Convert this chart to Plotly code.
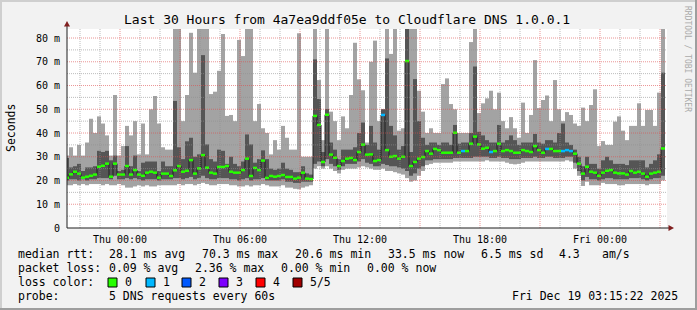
import plotly.graph_objects as go
from datetime import datetime, timedelta

# ---------------- data (ms), one value per 12-minute bin ----------------
ping_median = [
    21.2, 22.6, 23.7, 22.9, 21.2, 21.6, 22.0, 22.5, 25.8, 26.2, 27.1, 21.6, 27.1, 22.5, 22.5, 26.1, 22.5, 24.4, 22.5, 22.0, 23.3, 23.7, 23.3, 21.2, 22.9, 22.9,
    21.9, 24.3, 26.1, 23.7, 24.1, 28.6, 22.9, 25.1, 30.7, 25.4, 23.3, 22.9, 25.7, 25.7, 26.1, 23.7, 23.3, 23.3, 24.4, 29.2, 21.9, 25.3, 24.4, 28.4, 21.1,
    21.9, 21.6, 21.9, 22.3, 21.5, 21.5, 20.8, 21.2, 23.3, 20.8, 20.6, 47.2, 43.4, 27.8, 47.7, 30.9, 29.6, 26.1, 28.2, 29.2, 29.5, 28.6, 32.0, 35.1, 30.9,
    31.0, 28.2, 28.6, 47.6, 32.8, 30.0, 30.3, 29.2, 30.0, 70.3, 26.1, 27.8, 29.2, 29.9, 32.4, 31.3, 33.3, 32.8, 31.7, 31.7, 31.7, 40.1, 31.7, 32.4, 32.4,
    35.5, 38.5, 35.2, 33.4, 33.8, 32.0, 32.4, 35.5, 32.4, 32.8, 32.4, 31.7, 31.7, 32.8, 32.4, 32.0, 34.5, 32.8, 31.7, 33.3, 33.3, 32.4, 32.4, 32.4, 32.8,
    32.4, 31.3, 27.1, 22.9, 25.8, 23.7, 23.3, 22.0, 23.3, 24.1, 24.4, 23.3, 23.0, 23.0, 22.5, 24.0, 23.3, 23.7, 22.9, 21.6, 22.9, 23.3, 23.7, 33.5,
]
ping_max = [
    30.5, 34, 30.5, 35, 30.5, 36, 46, 40, 47, 44, 39, 30.5, 56, 30.5, 34.5, 43, 39, 45, 31, 44, 31, 50, 55.6, 44, 34, 33,
    33, 90, 90, 45, 56, 82.2, 65.4, 90, 90, 90, 56.4, 57.4, 66.2, 81.7, 47.2, 47.6, 45, 79.2, 72.4, 90, 90, 45, 52.2, 42, 40,
    31, 37, 33, 43, 38, 33, 33, 82, 30, 30, 30, 90, 62.3, 37, 90, 49, 45, 37, 47, 42, 56, 78, 62.6, 58, 36,
    70, 78.9, 45, 50, 90, 73.3, 90, 41, 42, 90, 90, 90, 57.8, 49, 40, 42, 40, 40, 60.6, 63, 52.2, 50, 40, 40, 40,
    78.3, 90, 48.4, 52.5, 54.6, 57.8, 50, 57, 45, 42, 46.7, 42, 38, 52.8, 40, 47.6, 70.7, 50.5, 53.9, 55.8, 45, 62.3, 50, 45, 48.8,
    47.6, 44, 43, 50.7, 45, 51.8, 58.4, 34.5, 36.6, 35, 35, 44.8, 47, 41, 37, 43, 43, 52.5, 43, 49.7, 49.7, 43, 57, 90,
]
ping_p4 = [
    29.5, 25.5, 26, 27, 24, 25.5, 25.5, 26, 32.5, 32, 32.5, 28.5, 30.5, 24, 24.5, 34.5, 26, 30.5, 24, 27.5, 28, 28, 28, 24, 28, 26,
    26, 53.5, 34, 29, 36.5, 38, 30, 31, 72.8, 35.2, 29, 28, 33, 32.5, 27, 30, 27, 26, 28, 39.4, 35.2, 27.5, 29, 32.7, 29,
    25, 24.5, 25, 27.5, 25, 24.5, 23.5, 23.5, 26, 23, 22.5, 71, 54.3, 32, 50.1, 36, 33, 29, 33, 33, 33, 34, 40, 44.4, 35,
    43, 36, 33, 50, 71.4, 43, 39, 33, 34.5, 90, 32, 62.7, 45, 38, 35, 36, 36, 35, 36, 36, 35, 43.4, 35.5, 36, 36,
    40, 68, 40.5, 39, 37, 36, 36, 43.4, 36, 37, 39, 37, 35, 36, 36, 36, 39.6, 36, 35.5, 37, 37, 36, 40, 44, 36,
    35, 33, 30, 26, 30, 27, 27, 25, 28.5, 30, 28.5, 27, 27, 27, 26.5, 28.5, 28.5, 28.5, 28.5, 25.5, 27, 28.5, 31, 65.4,
]
ping_p2 = [
    20, 20.5, 20.5, 20, 20.5, 20, 20.5, 20.5, 21, 21, 21, 20.5, 22, 20.5, 20.5, 21, 20.5, 21, 20.5, 20, 20.5, 20.5, 20.5, 20, 20.5, 20.5,
    20.5, 21, 21, 20.5, 21, 21.5, 20.5, 21, 22, 21, 20.5, 20.5, 21, 21, 21, 20.5, 20.5, 20, 20.5, 21, 20, 20.5, 20.5, 21, 20,
    20, 20, 20, 20.5, 19.5, 19.5, 19, 19, 19.5, 19.5, 19.5, 27, 28, 26, 29, 27, 26, 24.5, 26, 27, 27, 27, 28, 29, 27.5,
    27, 26, 26, 27, 26.5, 26, 26, 25.5, 25, 24, 22, 23, 25, 26, 28.5, 28.5, 29, 29, 29, 29, 29, 29.5, 29.5, 29.5, 29.5,
    29.5, 30, 30, 30, 30, 29.5, 29.5, 30, 29.5, 29.5, 29, 29, 29, 29.5, 29.5, 29.5, 30, 29.5, 29.5, 30, 30, 29.5, 29.5, 29.5, 30,
    30, 27.5, 24, 20, 21.5, 20.5, 20.5, 20, 20.5, 21, 21, 20.5, 20.5, 20.5, 20.5, 21, 21, 21, 20.5, 20, 20.5, 21, 21, 22,
]
ping_min = [
    18, 18, 18.5, 18, 18.5, 18, 18.5, 18.5, 18.5, 18, 18.5, 18, 18, 18.5, 18, 17, 17, 17.5, 18, 17.5, 18, 17.5, 17.5, 18, 18, 18,
    18, 18, 18.5, 18, 18.5, 18.5, 18, 18.5, 19, 18.5, 18, 18, 18.5, 18.5, 18.5, 18, 18, 17.5, 17.5, 18, 17.5, 18, 18, 18.5, 18,
    17.5, 17.5, 17.5, 18, 17, 17, 16.5, 16.3, 17, 17.5, 18, 25, 26, 25, 26, 25, 24, 23, 24.5, 25, 25, 25, 25.5, 26, 25.5,
    25, 24.5, 24.5, 25, 24, 24, 23.5, 23, 22.5, 21, 19.5, 20, 22, 24, 26.5, 27, 27.5, 27.5, 27.5, 27.5, 27.5, 28, 28, 28, 28,
    28, 28, 28, 28, 28.5, 28, 28, 28, 28, 27.5, 27, 26.8, 27, 27.5, 28, 28, 28, 28, 28, 28, 28, 28, 28, 28, 28.5,
    28, 25, 22, 17.7, 19.5, 18, 18, 18, 19, 18.5, 18.5, 18.5, 18, 18, 18.5, 18.5, 18.5, 18.5, 18.5, 18, 18.5, 18.5, 18.5, 20,
]
# packet loss (pings lost out of 5) per bin
loss = [0] * 150
for _k in (79, 99, 106, 120, 124, 125, 126):
    loss[_k] = 1

loss_labels = ["0", "1", "2", "3", "4", "5/5"]
loss_colors = ["#26ff00", "#00b8ff", "#0059ff", "#7e00ff", "#ff0000", "#a10000"]
x_tick_times = ["2025-12-18 00:00", "2025-12-18 06:00", "2025-12-18 12:00", "2025-12-18 18:00", "2025-12-19 00:00"]
x_tick_labels = ["Thu 00:00", "Thu 06:00", "Thu 12:00", "Thu 18:00", "Fri 00:00"]
y_tick_values = [0, 10, 20, 30, 40, 50, 60, 70, 80]
y_tick_labels = ["0", "10 m", "20 m", "30 m", "40 m", "50 m", "60 m", "70 m", "80 m"]

# ---------------- geometry / style ----------------
FIRST_BIN = datetime(2025, 12, 17, 21, 15)
STEP = timedelta(minutes=12)
STEP_MS = STEP.total_seconds() * 1000
X0 = datetime(2025, 12, 17, 21, 21)
X1 = datetime(2025, 12, 19, 3, 21)
Y_TOP = 83.8
W, H = 697, 310
L, R, T, B = 67, 667, 29, 228
MONO = "DejaVu Sans Mono"
LIGHT = "#a3a3a3"
DARK = "#555555"


def xp(px):
    return (px - L) / (R - L)


def yp(py):
    return (B - py) / (B - T)


n = len(ping_median)
starts = [FIRST_BIN + i * STEP for i in range(n)]
centers = [s + STEP / 2 for s in starts]

fig = go.Figure()
fig.add_trace(go.Bar(x=centers, base=ping_min, y=[a - b for a, b in zip(ping_max, ping_min)],
                     width=STEP_MS, marker=dict(color=LIGHT, line=dict(width=0)), hoverinfo="skip"))
fig.add_trace(go.Bar(x=centers, base=ping_p2, y=[a - b for a, b in zip(ping_p4, ping_p2)],
                     width=STEP_MS, marker=dict(color=DARK, line=dict(width=0)), hoverinfo="skip"))
fig.add_trace(go.Scatter(x=starts + [starts[-1] + STEP], y=ping_median + [ping_median[-1]],
                         mode="lines", line=dict(color="#202020", width=1, shape="hv"), hoverinfo="skip"))
for lvl, col in enumerate(loss_colors):
    xs, ys = [], []
    for s, m, l in zip(starts, ping_median, loss):
        if l == lvl:
            xs += [s, s + STEP, None]
            ys += [m, m, None]
    if xs:
        fig.add_trace(go.Scatter(x=xs, y=ys, mode="lines", line=dict(color=col, width=2.5),
                                 hoverinfo="skip"))

shapes = []
# grid (drawn over the data, like rrdtool)
t = datetime(2025, 12, 17, 22, 0)
while t < X1:
    major = t.hour % 3 == 0
    shapes.append(dict(type="line", xref="x", yref="paper", x0=t, x1=t, y0=0, y1=1, layer="above",
                       line=dict(color="rgba(222,79,79,0.6)" if major else "rgba(143,143,143,0.6)",
                                 width=1, dash="1px,1px")))
    t += timedelta(hours=1)
for v in range(5, 85, 5):
    major = v % 10 == 0
    shapes.append(dict(type="line", xref="paper", yref="y", x0=0, x1=1, y0=v, y1=v, layer="above",
                       line=dict(color="rgba(222,79,79,0.6)" if major else "rgba(143,143,143,0.6)",
                                 width=1, dash="1px,1px")))
# axes with arrows
shapes.append(dict(type="line", xref="paper", yref="paper", x0=0, x1=0, y0=0, y1=yp(25), layer="above",
                   line=dict(color="#1f1f1f", width=1)))
shapes.append(dict(type="line", xref="paper", yref="paper", x0=0, x1=xp(670), y0=0, y1=0, layer="above",
                   line=dict(color="#1f1f1f", width=1)))
shapes.append(dict(type="path", xref="paper", yref="paper", layer="above",
                   path=f"M {xp(64)} {yp(26.5)} L {xp(70)} {yp(26.5)} L {xp(67)} {yp(21)} Z",
                   fillcolor="#801f1f", line=dict(width=0)))
shapes.append(dict(type="path", xref="paper", yref="paper", layer="above",
                   path=f"M {xp(668.5)} {yp(225)} L {xp(668.5)} {yp(231)} L {xp(674)} {yp(228)} Z",
                   fillcolor="#801f1f", line=dict(width=0)))
# page border shading
shapes.append(dict(type="line", xref="paper", yref="paper", x0=xp(0), x1=xp(W), y0=yp(1), y1=yp(1),
                   line=dict(color="#cfcfcf", width=2)))
shapes.append(dict(type="line", xref="paper", yref="paper", x0=xp(1), x1=xp(1), y0=yp(0), y1=yp(H),
                   line=dict(color="#cfcfcf", width=2)))
shapes.append(dict(type="line", xref="paper", yref="paper", x0=xp(0), x1=xp(W), y0=yp(H - 1), y1=yp(H - 1),
                   line=dict(color="#9e9e9e", width=2)))
shapes.append(dict(type="line", xref="paper", yref="paper", x0=xp(W - 1), x1=xp(W - 1), y0=yp(0), y1=yp(H),
                   line=dict(color="#9e9e9e", width=2)))

ann = []


def text(px, py, s, size=11.5, anchor="left", color="#000000", angle=0):
    ann.append(dict(x=xp(px), y=yp(py), xref="paper", yref="paper", text=s, showarrow=False,
                    xanchor=anchor, yanchor="middle", textangle=angle,
                    font=dict(family=MONO, size=size, color=color)))


text(347, 19, "Last 30 Hours from 4a7ea9ddf05e to Cloudflare DNS 1.0.0.1", size=13, anchor="center")
text(11, 128, "Seconds", size=11.5, anchor="center", angle=-90)
text(688, 59, "RRDTOOL / TOBI OETIKER", size=8, anchor="center", color="#aaaaaa", angle=90)

rows = [
    (254, [(16, "median rtt:"), (107, "28.1 ms avg"), (200, "70.3 ms max"), (292.5, "20.6 ms min"),
           (386, "33.5 ms now"), (479, "6.5 ms sd"), (557, "4.3"), (600, "am/s")]),
    (268, [(16, "packet loss:"), (107, "0.09 % avg"), (193, "2.36 % max"), (279, "0.00 % min"),
           (365, "0.00 % now")]),
    (282, [(16, "loss color:")]),
    (296, [(16, "probe:"), (107, "5 DNS requests every 60s")]),
]
for py, items in rows:
    for px, s in items:
        text(px, py, s)
text(680, 296, "Fri Dec 19 03:15:22 2025", anchor="right")

box_x = [108, 146, 182, 219, 256, 293]
for bx, col, lab in zip(box_x, loss_colors, loss_labels):
    shapes.append(dict(type="rect", xref="paper", yref="paper", x0=xp(bx), x1=xp(bx + 9),
                       y0=yp(278), y1=yp(287), fillcolor=col, line=dict(color="#000000", width=1)))
    text(bx + 15, 282, lab)

fig.update_layout(
    width=W, height=H, margin=dict(l=L, r=W - R, t=T, b=H - B),
    paper_bgcolor="#f2f2f2", plot_bgcolor="#ffffff",
    barmode="overlay", showlegend=False, shapes=shapes, annotations=ann,
    xaxis=dict(type="date", range=[X0, X1], showgrid=False, zeroline=False, showline=False,
               tickvals=x_tick_times, ticktext=x_tick_labels, ticks="outside", ticklen=2,
               tickcolor="rgba(0,0,0,0)", tickfont=dict(family=MONO, size=10, color="#000000"),
               fixedrange=True),
    yaxis=dict(range=[0, Y_TOP], showgrid=False, zeroline=False, showline=False,
               tickvals=y_tick_values, ticktext=y_tick_labels, ticks="outside", ticklen=4,
               tickcolor="rgba(0,0,0,0)", tickfont=dict(family=MONO, size=10, color="#000000"),
               fixedrange=True),
)
fig.write_html("out.html")
